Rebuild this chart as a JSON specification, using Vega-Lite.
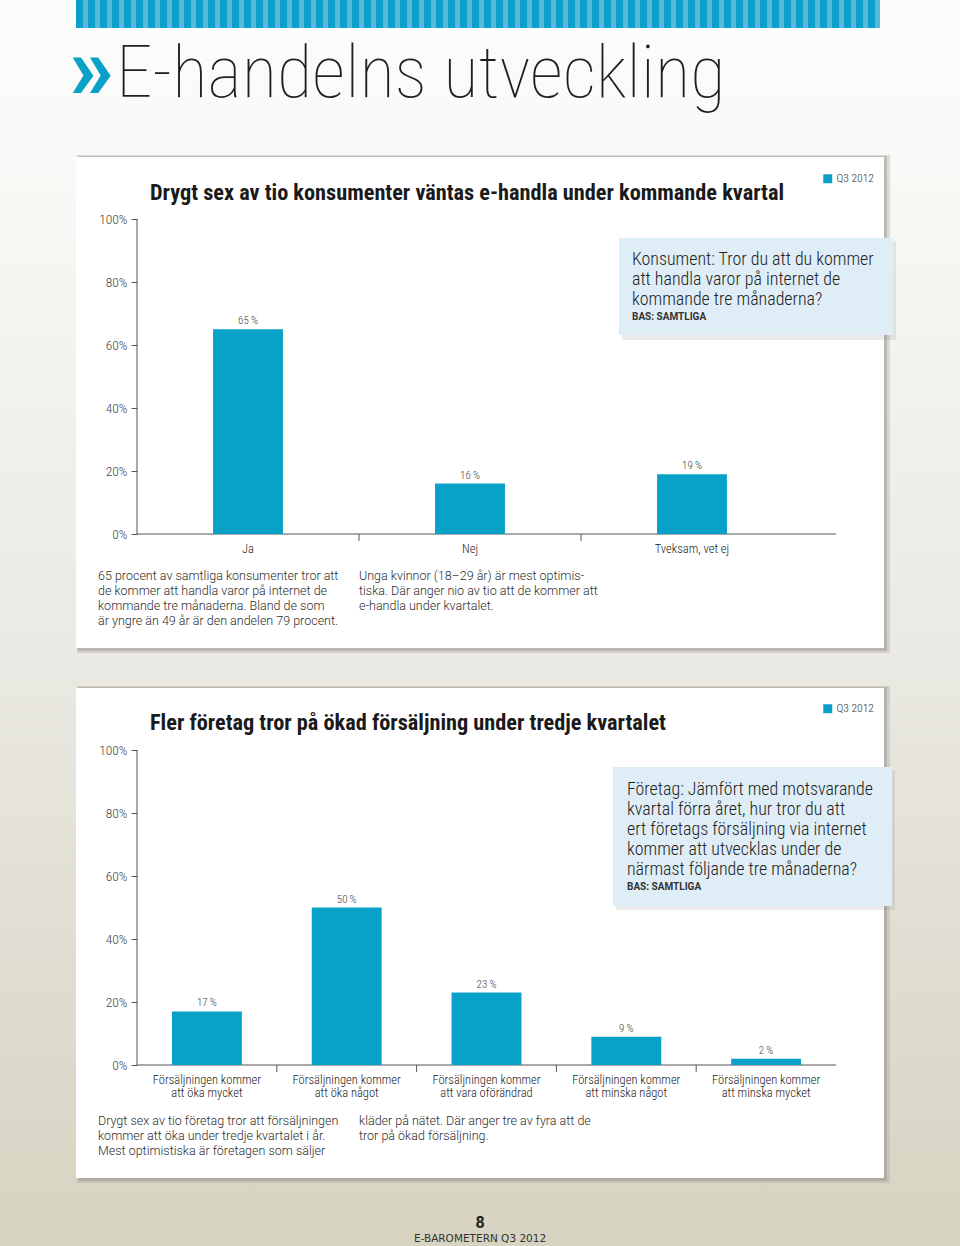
{
  "$schema": "https://vega.github.io/schema/vega-lite/v6.json",
  "width": 960,
  "height": 1246,
  "autosize": {"type": "fit", "contains": "padding"},
  "padding": 0,
  "background": "#ebeae4",
  "view": {
    "stroke": null,
    "fill": {"gradient": "linear", "x1": 0, "y1": 0, "x2": 0, "y2": 1,
      "stops": [
        {"offset": 0, "color": "#fcfcfb"},
        {"offset": 0.12, "color": "#f9f9f7"},
        {"offset": 0.52, "color": "#eae9e3"},
        {"offset": 1, "color": "#d6d3c1"}
      ]}
  },
  "config": {
    "font": "Roboto Condensed, Liberation Sans Narrow, DejaVu Sans Condensed, sans-serif",
    "locale": {"number": {"decimal": ",", "thousands": " ", "grouping": [3], "currency": ["", "\u2009%"]}},
    "axis": {"grid": false, "title": null, "labelFont": "Roboto Condensed, Liberation Sans Narrow, sans-serif"},
    "text": {"font": "Roboto Condensed, Liberation Sans Narrow, DejaVu Sans Condensed, sans-serif"}
  },
  "datasets": {
    "konsument": [
      {"svar": "Ja", "andel": 65, "period": "Q3 2012"},
      {"svar": "Nej", "andel": 16, "period": "Q3 2012"},
      {"svar": "Tveksam, vet ej", "andel": 19, "period": "Q3 2012"}
    ],
    "foretag": [
      {"svar": "Försäljningen kommer att öka mycket", "andel": 17, "period": "Q3 2012"},
      {"svar": "Försäljningen kommer att öka något", "andel": 50, "period": "Q3 2012"},
      {"svar": "Försäljningen kommer att vara oförändrad", "andel": 23, "period": "Q3 2012"},
      {"svar": "Försäljningen kommer att minska något", "andel": 9, "period": "Q3 2012"},
      {"svar": "Försäljningen kommer att minska mycket", "andel": 2, "period": "Q3 2012"}
    ]
  },
  "resolve": {
    "scale": {"x": "independent", "y": "independent", "color": "independent"},
    "axis": {"x": "independent", "y": "independent"},
    "legend": {"color": "independent"}
  },
  "layer": [
    {
      "layer": [
        {
          "data": {"values": [{}]},
          "mark": {"type": "rect", "color": "#a8a69c", "opacity": 0.35},
          "encoding": {
            "x": {"datum": "Ja", "bandPosition": -0.2703},
            "x2": {"datum": "Tveksam, vet ej", "bandPosition": 1.3919},
            "y": {"datum": 120.32},
            "y2": {"datum": -37.78}
          }
        },
        {
          "data": {"values": [{}]},
          "mark": {"type": "rect", "color": "#8f8d84", "opacity": 0.4},
          "encoding": {
            "x": {"datum": "Ja", "bandPosition": -0.2658},
            "x2": {"datum": "Tveksam, vet ej", "bandPosition": 1.3784},
            "y": {"datum": 120.0},
            "y2": {"datum": -37.14}
          }
        },
        {
          "data": {"values": [{}]},
          "mark": {"type": "rect", "color": "#ffffff"},
          "encoding": {
            "x": {"datum": "Ja", "bandPosition": -0.2748},
            "x2": {"datum": "Tveksam, vet ej", "bandPosition": 1.3649},
            "y": {"datum": 119.68},
            "y2": {"datum": -36.19}
          }
        },
        {
          "data": {"values": [{}]},
          "mark": {"type": "rect", "color": "#58b9da"},
          "encoding": {
            "x": {"datum": "Ja", "bandPosition": -0.2748},
            "x2": {"datum": "Tveksam, vet ej", "bandPosition": 1.3468},
            "y": {"datum": 169.524},
            "y2": {"datum": 160.635}
          }
        },
        {
          "data": {"values": [{}]},
          "mark": {"type": "rule", "color": "#0d9fcb", "strokeWidth": 28, "strokeDash": [7, 5], "strokeCap": "butt"},
          "encoding": {
            "x": {"datum": "Ja", "bandPosition": -0.2748},
            "x2": {"datum": "Tveksam, vet ej", "bandPosition": 1.3468},
            "y": {"datum": 165.079}
          }
        },
        {
          "data": {"values": [{"t": "»"}]},
          "mark": {"type": "text", "align": "left", "baseline": "alphabetic", "fontSize": 90, "fontWeight": "bold", "color": "#0aa1c8", "font": "Roboto, DejaVu Sans, sans-serif"},
          "encoding": {
            "x": {"datum": "Ja", "bandPosition": -0.3063},
            "y": {"datum": 138.10},
            "text": {"field": "t"}
          }
        },
        {
          "data": {"values": [{"t": "E-handelns utveckling"}]},
          "mark": {"type": "text", "align": "left", "baseline": "alphabetic", "fontSize": 73, "fontWeight": 100, "color": "#1e1e1e"},
          "encoding": {
            "x": {"datum": "Ja", "bandPosition": -0.0946},
            "y": {"datum": 138.73},
            "text": {"field": "t"}
          }
        },
        {
          "data": {"values": [{"t": "Drygt sex av tio konsumenter väntas e-handla under kommande kvartal"}]},
          "mark": {"type": "text", "align": "left", "baseline": "alphabetic", "fontSize": 22.3, "fontWeight": "bold", "color": "#1a1a1a"},
          "encoding": {
            "x": {"datum": "Ja", "bandPosition": 0.0586},
            "y": {"datum": 106.03},
            "text": {"field": "t"}
          }
        },
        {
          "data": {"values": [{}]},
          "mark": {"type": "rect", "color": "#777777", "opacity": 0.15},
          "encoding": {
            "x": {"datum": "Tveksam, vet ej", "bandPosition": 0.1847},
            "x2": {"datum": "Tveksam, vet ej", "bandPosition": 1.4189},
            "y": {"datum": 93.02},
            "y2": {"datum": 61.59}
          }
        },
        {
          "data": {"values": [{}]},
          "mark": {"type": "rect", "color": "#dfeef6"},
          "encoding": {
            "x": {"datum": "Tveksam, vet ej", "bandPosition": 0.1712},
            "x2": {"datum": "Tveksam, vet ej", "bandPosition": 1.4054},
            "y": {"datum": 93.97},
            "y2": {"datum": 63.17}
          }
        },
        {
          "data": {"values": [{"t": "Konsument: Tror du att du kommer\natt handla varor på internet de\nkommande tre månaderna?"}]},
          "mark": {"type": "text", "align": "left", "baseline": "alphabetic", "fontSize": 17.9, "fontWeight": 300, "lineHeight": 20, "lineBreak": "\n", "color": "#222222"},
          "encoding": {
            "x": {"datum": "Tveksam, vet ej", "bandPosition": 0.2297},
            "y": {"datum": 85.40},
            "text": {"field": "t"}
          }
        },
        {
          "data": {"values": [{"t": "BAS: SAMTLIGA"}]},
          "mark": {"type": "text", "align": "left", "baseline": "alphabetic", "fontSize": 10, "fontWeight": "bold", "color": "#333333", "font": "Roboto, Liberation Sans, sans-serif"},
          "encoding": {
            "x": {"datum": "Tveksam, vet ej", "bandPosition": 0.2297},
            "y": {"datum": 67.94},
            "text": {"field": "t"}
          }
        },
        {
          "data": {"values": [{"t": "65 procent av samtliga konsumenter tror att\nde kommer att handla varor på internet de\nkommande tre månaderna. Bland de som\när yngre än 49 år är den andelen 79 procent."}]},
          "mark": {"type": "text", "align": "left", "baseline": "alphabetic", "fontSize": 12.5, "lineHeight": 15, "lineBreak": "\n", "color": "#2e2e2e", "font": "Roboto, Liberation Sans, sans-serif", "fontWeight": 300},
          "encoding": {
            "x": {"datum": "Ja", "bandPosition": -0.1757},
            "y": {"datum": -14.60},
            "text": {"field": "t"}
          }
        },
        {
          "data": {"values": [{"t": "Unga kvinnor (18–29 år) är mest optimis-\ntiska. Där anger nio av tio att de kommer att\ne-handla under kvartalet."}]},
          "mark": {"type": "text", "align": "left", "baseline": "alphabetic", "fontSize": 12.5, "lineHeight": 15, "lineBreak": "\n", "color": "#2e2e2e", "font": "Roboto, Liberation Sans, sans-serif", "fontWeight": 300},
          "encoding": {
            "x": {"datum": "Nej", "bandPosition": 0},
            "y": {"datum": -14.60},
            "text": {"field": "t"}
          }
        },
        {
          "data": {"values": [{}]},
          "mark": {"type": "rule", "color": "#555555", "strokeWidth": 1},
          "encoding": {
            "x": {"datum": "Ja", "bandPosition": 0},
            "y": {"datum": 0},
            "y2": {"datum": 100}
          }
        },
        {
          "data": {"values": [{}]},
          "mark": {"type": "rule", "color": "#555555", "strokeWidth": 1},
          "encoding": {
            "x": {"datum": "Ja", "bandPosition": 0},
            "x2": {"datum": "Tveksam, vet ej", "bandPosition": 1.1486},
            "y": {"datum": 0}
          }
        },
        {
          "data": {"name": "konsument"},
          "transform": [{"filter": "datum.svar !== 'Ja'"}],
          "mark": {"type": "rule", "color": "#555555", "strokeWidth": 1},
          "encoding": {
            "x": {"field": "svar", "type": "nominal", "bandPosition": 0},
            "y": {"datum": 0},
            "y2": {"datum": -2.2}
          }
        },
        {
          "data": {"name": "konsument"},
          "mark": {"type": "bar", "width": {"band": 0.315}},
          "encoding": {
            "x": {
              "field": "svar", "type": "nominal", "sort": null,
              "scale": {"type": "band", "domain": ["Ja", "Nej", "Tveksam, vet ej"], "paddingInner": 0, "paddingOuter": 0.66216, "align": 0.46599},
              "axis": {"orient": "bottom", "offset": -712, "domain": false, "ticks": false, "labelPadding": 8, "labelAngle": 0, "labelAlign": "center", "labelBaseline": "top", "labelFontSize": 12.5, "labelFontWeight": 300, "labelColor": "#222222", "title": null}
            },
            "y": {
              "field": "andel", "type": "quantitative",
              "scale": {"domain": [-226.032, 169.524], "nice": false, "zero": false},
              "axis": {"orient": "left", "offset": -137, "zindex": 1, "values": [0, 20, 40, 60, 80, 100], "domain": false, "tickSize": 6, "tickColor": "#555555", "labelPadding": 4, "labelFontSize": 13.5, "labelFontWeight": 300, "labelColor": "#444444", "labelExpr": "datum.value + '%'", "title": null}
            },
            "y2": {"datum": 0},
            "color": {
              "field": "period", "type": "nominal",
              "scale": {"range": ["#0aa1c8"]},
              "legend": {"orient": "none", "legendX": 822, "legendY": 173, "title": null, "symbolType": "square", "symbolSize": 81, "symbolStrokeWidth": 0, "labelFontSize": 11.5, "labelFontWeight": 300, "labelColor": "#333333", "labelOffset": 3, "padding": 0}
            }
          }
        },
        {
          "data": {"name": "konsument"},
          "mark": {"type": "text", "baseline": "alphabetic", "dy": -5, "fontSize": 11, "fontWeight": 300, "color": "#444444"},
          "encoding": {
            "x": {"field": "svar", "type": "nominal"},
            "y": {"field": "andel", "type": "quantitative"},
            "text": {"field": "andel", "type": "quantitative", "format": "$d"}
          }
        }
      ]
    },
    {
      "layer": [
        {
          "data": {"values": [{}]},
          "mark": {"type": "rect", "color": "#a8a69c", "opacity": 0.35},
          "encoding": {
            "x": {"datum": "Försäljningen kommer att öka mycket", "bandPosition": -0.4292},
            "x2": {"datum": "Försäljningen kommer att minska mycket", "bandPosition": 1.3863},
            "y": {"datum": 120.32},
            "y2": {"datum": -37.46}
          }
        },
        {
          "data": {"values": [{}]},
          "mark": {"type": "rect", "color": "#8f8d84", "opacity": 0.4},
          "encoding": {
            "x": {"datum": "Försäljningen kommer att öka mycket", "bandPosition": -0.4220},
            "x2": {"datum": "Försäljningen kommer att minska mycket", "bandPosition": 1.3648},
            "y": {"datum": 120.0},
            "y2": {"datum": -36.83}
          }
        },
        {
          "data": {"values": [{}]},
          "mark": {"type": "rect", "color": "#ffffff"},
          "encoding": {
            "x": {"datum": "Försäljningen kommer att öka mycket", "bandPosition": -0.4363},
            "x2": {"datum": "Försäljningen kommer att minska mycket", "bandPosition": 1.3433},
            "y": {"datum": 119.68},
            "y2": {"datum": -35.87}
          }
        },
        {
          "data": {"values": [{"t": "Fler företag tror på ökad försäljning under tredje kvartalet"}]},
          "mark": {"type": "text", "align": "left", "baseline": "alphabetic", "fontSize": 22.3, "fontWeight": "bold", "color": "#1a1a1a"},
          "encoding": {
            "x": {"datum": "Försäljningen kommer att öka mycket", "bandPosition": 0.0930},
            "y": {"datum": 106.35},
            "text": {"field": "t"}
          }
        },
        {
          "data": {"values": [{}]},
          "mark": {"type": "rect", "color": "#777777", "opacity": 0.15},
          "encoding": {
            "x": {"datum": "Försäljningen kommer att minska något", "bandPosition": 0.4263},
            "x2": {"datum": "Försäljningen kommer att minska något", "bandPosition": 2.4220},
            "y": {"datum": 93.65},
            "y2": {"datum": 49.21}
          }
        },
        {
          "data": {"values": [{}]},
          "mark": {"type": "rect", "color": "#dfeef6"},
          "encoding": {
            "x": {"datum": "Försäljningen kommer att minska något", "bandPosition": 0.4049},
            "x2": {"datum": "Försäljningen kommer att minska något", "bandPosition": 2.4006},
            "y": {"datum": 94.60},
            "y2": {"datum": 50.48}
          }
        },
        {
          "data": {"values": [{"t": "Företag: Jämfört med motsvarande\nkvartal förra året, hur tror du att\nert företags försäljning via internet\nkommer att utvecklas under de\nnärmast följande tre månaderna?"}]},
          "mark": {"type": "text", "align": "left", "baseline": "alphabetic", "fontSize": 17.9, "fontWeight": 300, "lineHeight": 20, "lineBreak": "\n", "color": "#222222"},
          "encoding": {
            "x": {"datum": "Försäljningen kommer att minska något", "bandPosition": 0.5050},
            "y": {"datum": 85.71},
            "text": {"field": "t"}
          }
        },
        {
          "data": {"values": [{"t": "BAS: SAMTLIGA"}]},
          "mark": {"type": "text", "align": "left", "baseline": "alphabetic", "fontSize": 10, "fontWeight": "bold", "color": "#333333", "font": "Roboto, Liberation Sans, sans-serif"},
          "encoding": {
            "x": {"datum": "Försäljningen kommer att minska något", "bandPosition": 0.5050},
            "y": {"datum": 55.56},
            "text": {"field": "t"}
          }
        },
        {
          "data": {"values": [{"t": "Drygt sex av tio företag tror att försäljningen\nkommer att öka under tredje kvartalet i år.\nMest optimistiska är företagen som säljer"}]},
          "mark": {"type": "text", "align": "left", "baseline": "alphabetic", "fontSize": 12.5, "lineHeight": 15, "lineBreak": "\n", "color": "#2e2e2e", "font": "Roboto, Liberation Sans, sans-serif", "fontWeight": 300},
          "encoding": {
            "x": {"datum": "Försäljningen kommer att öka mycket", "bandPosition": -0.2790},
            "y": {"datum": -19.05},
            "text": {"field": "t"}
          }
        },
        {
          "data": {"values": [{"t": "kläder på nätet. Där anger tre av fyra att de\ntror på ökad försäljning."}]},
          "mark": {"type": "text", "align": "left", "baseline": "alphabetic", "fontSize": 12.5, "lineHeight": 15, "lineBreak": "\n", "color": "#2e2e2e", "font": "Roboto, Liberation Sans, sans-serif", "fontWeight": 300},
          "encoding": {
            "x": {"datum": "Försäljningen kommer att öka något", "bandPosition": 0.588},
            "y": {"datum": -19.05},
            "text": {"field": "t"}
          }
        },
        {
          "data": {"values": [{"t": "8"}]},
          "mark": {"type": "text", "align": "center", "baseline": "alphabetic", "fontSize": 16, "fontWeight": "bold", "color": "#222222", "font": "Roboto, DejaVu Sans, sans-serif"},
          "encoding": {
            "x": {"datum": "Försäljningen kommer att vara oförändrad", "bandPosition": 0.4535},
            "y": {"datum": -51.75},
            "text": {"field": "t"}
          }
        },
        {
          "data": {"values": [{"t": "E-BAROMETERN Q3 2012"}]},
          "mark": {"type": "text", "align": "center", "baseline": "alphabetic", "fontSize": 10.5, "color": "#333333", "font": "DejaVu Sans, sans-serif"},
          "encoding": {
            "x": {"datum": "Försäljningen kommer att vara oförändrad", "bandPosition": 0.4535},
            "y": {"datum": -56.19},
            "text": {"field": "t"}
          }
        },
        {
          "data": {"values": [{}]},
          "mark": {"type": "rule", "color": "#555555", "strokeWidth": 1},
          "encoding": {
            "x": {"datum": "Försäljningen kommer att öka mycket", "bandPosition": 0},
            "y": {"datum": 0},
            "y2": {"datum": 100}
          }
        },
        {
          "data": {"values": [{}]},
          "mark": {"type": "rule", "color": "#555555", "strokeWidth": 1},
          "encoding": {
            "x": {"datum": "Försäljningen kommer att öka mycket", "bandPosition": 0},
            "x2": {"datum": "Försäljningen kommer att minska mycket", "bandPosition": 1},
            "y": {"datum": 0}
          }
        },
        {
          "data": {"name": "foretag"},
          "transform": [{"filter": "datum.svar !== 'Försäljningen kommer att öka mycket'"}],
          "mark": {"type": "rule", "color": "#555555", "strokeWidth": 1},
          "encoding": {
            "x": {"field": "svar", "type": "nominal", "bandPosition": 0},
            "y": {"datum": 0},
            "y2": {"datum": -2.2}
          }
        },
        {
          "data": {"name": "foretag"},
          "mark": {"type": "bar", "width": {"band": 0.5}},
          "encoding": {
            "x": {
              "field": "svar", "type": "nominal", "sort": null,
              "scale": {"type": "band", "domain": ["Försäljningen kommer att öka mycket", "Försäljningen kommer att öka något", "Försäljningen kommer att vara oförändrad", "Försäljningen kommer att minska något", "Försäljningen kommer att minska mycket"], "paddingInner": 0, "paddingOuter": 0.93348, "align": 0.5249},
              "axis": {"orient": "bottom", "offset": -181, "domain": false, "ticks": false, "labelPadding": 8, "labelAngle": 0, "labelAlign": "center", "labelBaseline": "top", "labelFontSize": 12.5, "labelFontWeight": 300, "labelLineHeight": 13, "labelColor": "#222222", "labelExpr": "split(replace(datum.label, 'kommer ', 'kommer|'), '|')", "title": null}
            },
            "y": {
              "field": "andel", "type": "quantitative",
              "scale": {"domain": [-57.460, 338.095], "nice": false, "zero": false},
              "axis": {"orient": "left", "offset": -137, "zindex": 1, "values": [0, 20, 40, 60, 80, 100], "domain": false, "tickSize": 6, "tickColor": "#555555", "labelPadding": 4, "labelFontSize": 13.5, "labelFontWeight": 300, "labelColor": "#444444", "labelExpr": "datum.value + '%'", "title": null}
            },
            "y2": {"datum": 0},
            "color": {
              "field": "period", "type": "nominal",
              "scale": {"range": ["#0aa1c8"]},
              "legend": {"orient": "none", "legendX": 822, "legendY": 703, "title": null, "symbolType": "square", "symbolSize": 81, "symbolStrokeWidth": 0, "labelFontSize": 11.5, "labelFontWeight": 300, "labelColor": "#333333", "labelOffset": 3, "padding": 0}
            }
          }
        },
        {
          "data": {"name": "foretag"},
          "mark": {"type": "text", "baseline": "alphabetic", "dy": -5, "fontSize": 11, "fontWeight": 300, "color": "#444444"},
          "encoding": {
            "x": {"field": "svar", "type": "nominal"},
            "y": {"field": "andel", "type": "quantitative"},
            "text": {"field": "andel", "type": "quantitative", "format": "$d"}
          }
        }
      ]
    }
  ]
}
